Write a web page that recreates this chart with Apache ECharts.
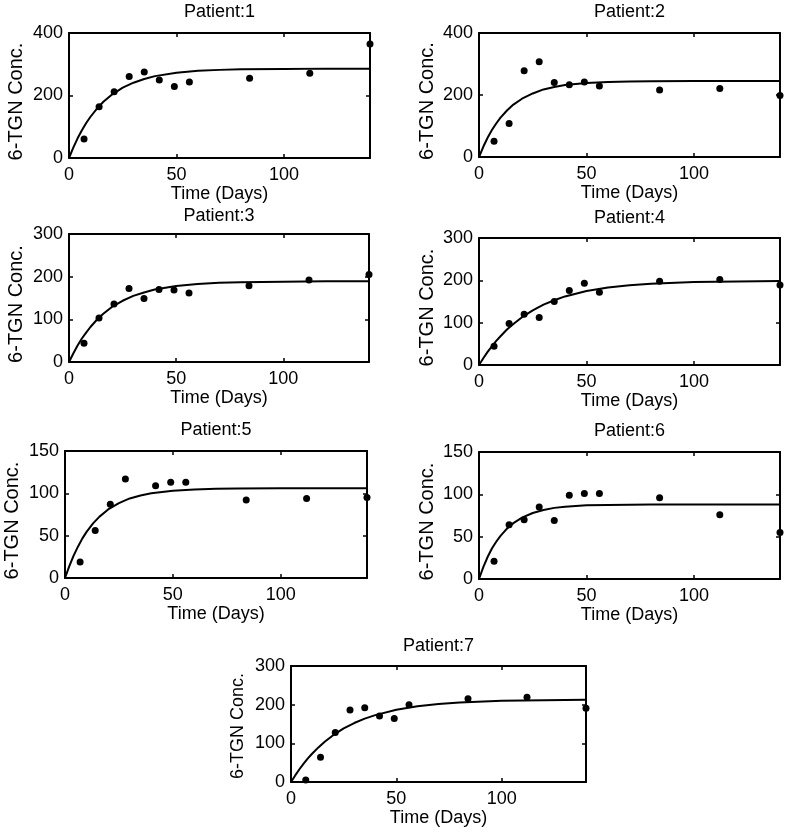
<!DOCTYPE html>
<html>
<head>
<meta charset="utf-8">
<script src="https://cdn.jsdelivr.net/npm/echarts@6/dist/echarts.min.js"></script>
<style>
html,body{margin:0;padding:0;background:#fff;}
#chart{width:788px;height:835px;}
</style>
</head>
<body>
<div id="chart"></div>
<script>
// ---- data ----
const days = [7, 14, 21, 28, 35, 42, 49, 56, 84, 112, 140];
const days5 = [7, 14, 21, 28, 42, 49, 56, 84, 112, 140];
const p1 = [61, 164, 212, 261, 275, 250, 229, 243, 255, 271, 365];
const p2 = [51, 108, 278, 307, 240, 233, 242, 229, 216, 221, 198];
const p3 = [44, 103, 136, 172, 149, 170, 169, 162, 179, 192, 205];
const p4 = [44, 98, 120, 112, 150, 176, 193, 172, 198, 202, 189];
const p5 = [19, 56, 87, 117, 109, 113, 113, 92, 94, 95];
const p6 = [21, 64, 70, 85, 69, 99, 101, 101, 96, 76, 55];
const p7 = [5, 64, 128, 186, 192, 171, 164, 200, 215, 219, 191];

// fitted curves, values
const fitDays = [0, 2, 4, 6, 8, 10, 13, 16, 20, 25, 30, 35, 40, 50, 60, 70, 80, 100, 120, 140];
const fit1 = [0, 33, 63, 89, 112, 132, 158, 180, 203, 225, 241, 253, 262, 273, 279, 282, 284, 285, 286, 286];
const fit2 = [0, 33, 62, 87, 108, 127, 150, 169, 188, 205, 218, 226, 232, 239, 242, 243.5, 244, 245, 245, 245];
const fit3 = [0, 20, 38.5, 55, 69, 82, 99, 113, 129, 143.5, 155, 163, 170, 178, 183, 185.5, 187, 188, 189, 189];
const fit4 = [0, 16, 31, 44, 57, 68, 84, 97, 113, 129, 142.5, 153, 162, 175, 183, 188.5, 192, 196, 197.5, 198.5];
const fit5 = [0, 14, 26.5, 37, 46.5, 54.5, 64.5, 72.5, 81, 88.5, 94, 97.5, 100, 103, 104.5, 105.3, 105.7, 106, 106, 106];
const fit6 = [0, 14, 26, 36, 44, 51, 59.5, 66, 72.5, 78, 81.5, 84, 85.3, 87, 87.5, 87.8, 88, 88, 88, 88];
const fit7 = [0, 17, 33, 47.5, 61, 73, 89.5, 104, 121, 138.5, 152.5, 164, 173, 187, 196, 201.5, 205.5, 210, 211.5, 212.5];

const titles = ['Patient:1', 'Patient:2', 'Patient:3', 'Patient:4', 'Patient:5', 'Patient:6', 'Patient:7'];
const yMax = [400, 400, 300, 300, 150, 150, 300];
const yStep = [200, 200, 100, 100, 50, 50, 100];
const xMax = 140;
const xStep = 50;
const xName = 'Time (Days)';
const yName = '6-TGN Conc.';

// ---- layout ----
const boxes = [
  {left: 69, top: 33, width: 301, height: 125, titleTop: 3, yNameSize: 20, yNameShift: 12, yNameGap: 43},
  {left: 479, top: 33, width: 301, height: 124, titleTop: 3, yNameSize: 20, yNameShift: 12, yNameGap: 42},
  {left: 69, top: 234, width: 300, height: 128, titleTop: 207, yNameSize: 20, yNameShift: 12, yNameGap: 43},
  {left: 479, top: 238, width: 301, height: 127, titleTop: 209, yNameSize: 20, yNameShift: 12, yNameGap: 42},
  {left: 65, top: 451, width: 302, height: 127, titleTop: 421, yNameSize: 20, yNameShift: 12, yNameGap: 43},
  {left: 479, top: 452, width: 301, height: 127, titleTop: 422, yNameSize: 20, yNameShift: 12, yNameGap: 42},
  {left: 291, top: 666, width: 295, height: 116, titleTop: 637, yNameSize: 18, yNameShift: 4, yNameGap: 44}
];

const scatterX = [days, days, days, days, days5, days, days];
const scatterY = [p1, p2, p3, p4, p5, p6, p7];
const fits = [fit1, fit2, fit3, fit4, fit5, fit6, fit7];

const FONT = '"Liberation Sans", Arial, sans-serif';
const FS = 18;

const option = {
  backgroundColor: '#fff',
  animation: false,
  title: [], grid: [], xAxis: [], yAxis: [], series: []
};

boxes.forEach((b, i) => {
  option.grid.push({left: b.left, top: b.top, width: b.width, height: b.height,
    show: false, containLabel: false});
  option.title.push({text: titles[i], left: b.left + b.width / 2, top: b.titleTop, textAlign: 'center', padding: 0,
    textStyle: {fontFamily: FONT, fontSize: FS, fontWeight: 'normal', color: '#000'}});
  const tick = {show: true, inside: true, length: 4, lineStyle: {color: '#000', width: 1.5}};
  const line = {show: true, onZero: false, lineStyle: {color: '#000', width: 2}};
  // bottom x
  option.xAxis.push({type: 'value', gridIndex: i, min: 0, max: xMax, interval: xStep, position: 'bottom',
    name: xName, nameLocation: 'middle', nameGap: 27,
    nameTextStyle: {fontFamily: FONT, fontSize: FS, color: '#000'},
    axisLine: line, axisTick: tick, splitLine: {show: false},
    axisLabel: {fontFamily: FONT, fontSize: FS, color: '#000', margin: 8, showMaxLabel: false}});
  // top x (mirror ticks)
  option.xAxis.push({type: 'value', gridIndex: i, min: 0, max: xMax, interval: xStep, position: 'top',
    axisLine: line, axisTick: tick, splitLine: {show: false}, axisLabel: {show: false}});
  // left y
  option.yAxis.push({type: 'value', gridIndex: i, min: 0, max: yMax[i], interval: yStep[i], position: 'left',
    name: yName, nameLocation: 'middle', nameGap: b.yNameGap, nameRotate: 90,
    nameTextStyle: {fontFamily: FONT, fontSize: b.yNameSize, color: '#000', padding: [0, b.yNameShift, 0, 0]},
    axisLine: line, axisTick: tick, splitLine: {show: false},
    axisLabel: {fontFamily: FONT, fontSize: FS, color: '#000', margin: 6}});
  // right y (mirror ticks)
  option.yAxis.push({type: 'value', gridIndex: i, min: 0, max: yMax[i], interval: yStep[i], position: 'right',
    axisLine: line, axisTick: tick, splitLine: {show: false}, axisLabel: {show: false}});

  option.series.push({type: 'line', xAxisIndex: 2 * i, yAxisIndex: 2 * i, smooth: false,
    showSymbol: false, symbol: 'none', lineStyle: {color: '#000', width: 2},
    data: fitDays.map((d, k) => [d, fits[i][k]]), z: 3});
  option.series.push({type: 'scatter', xAxisIndex: 2 * i, yAxisIndex: 2 * i, symbol: 'circle', symbolSize: 7,
    itemStyle: {color: '#000', opacity: 1}, clip: false,
    data: scatterX[i].map((d, k) => [d, scatterY[i][k]]), z: 4});
});

const chart = echarts.init(document.getElementById('chart'), null, {renderer: 'canvas'});
chart.setOption(option);
</script>
</body>
</html>
